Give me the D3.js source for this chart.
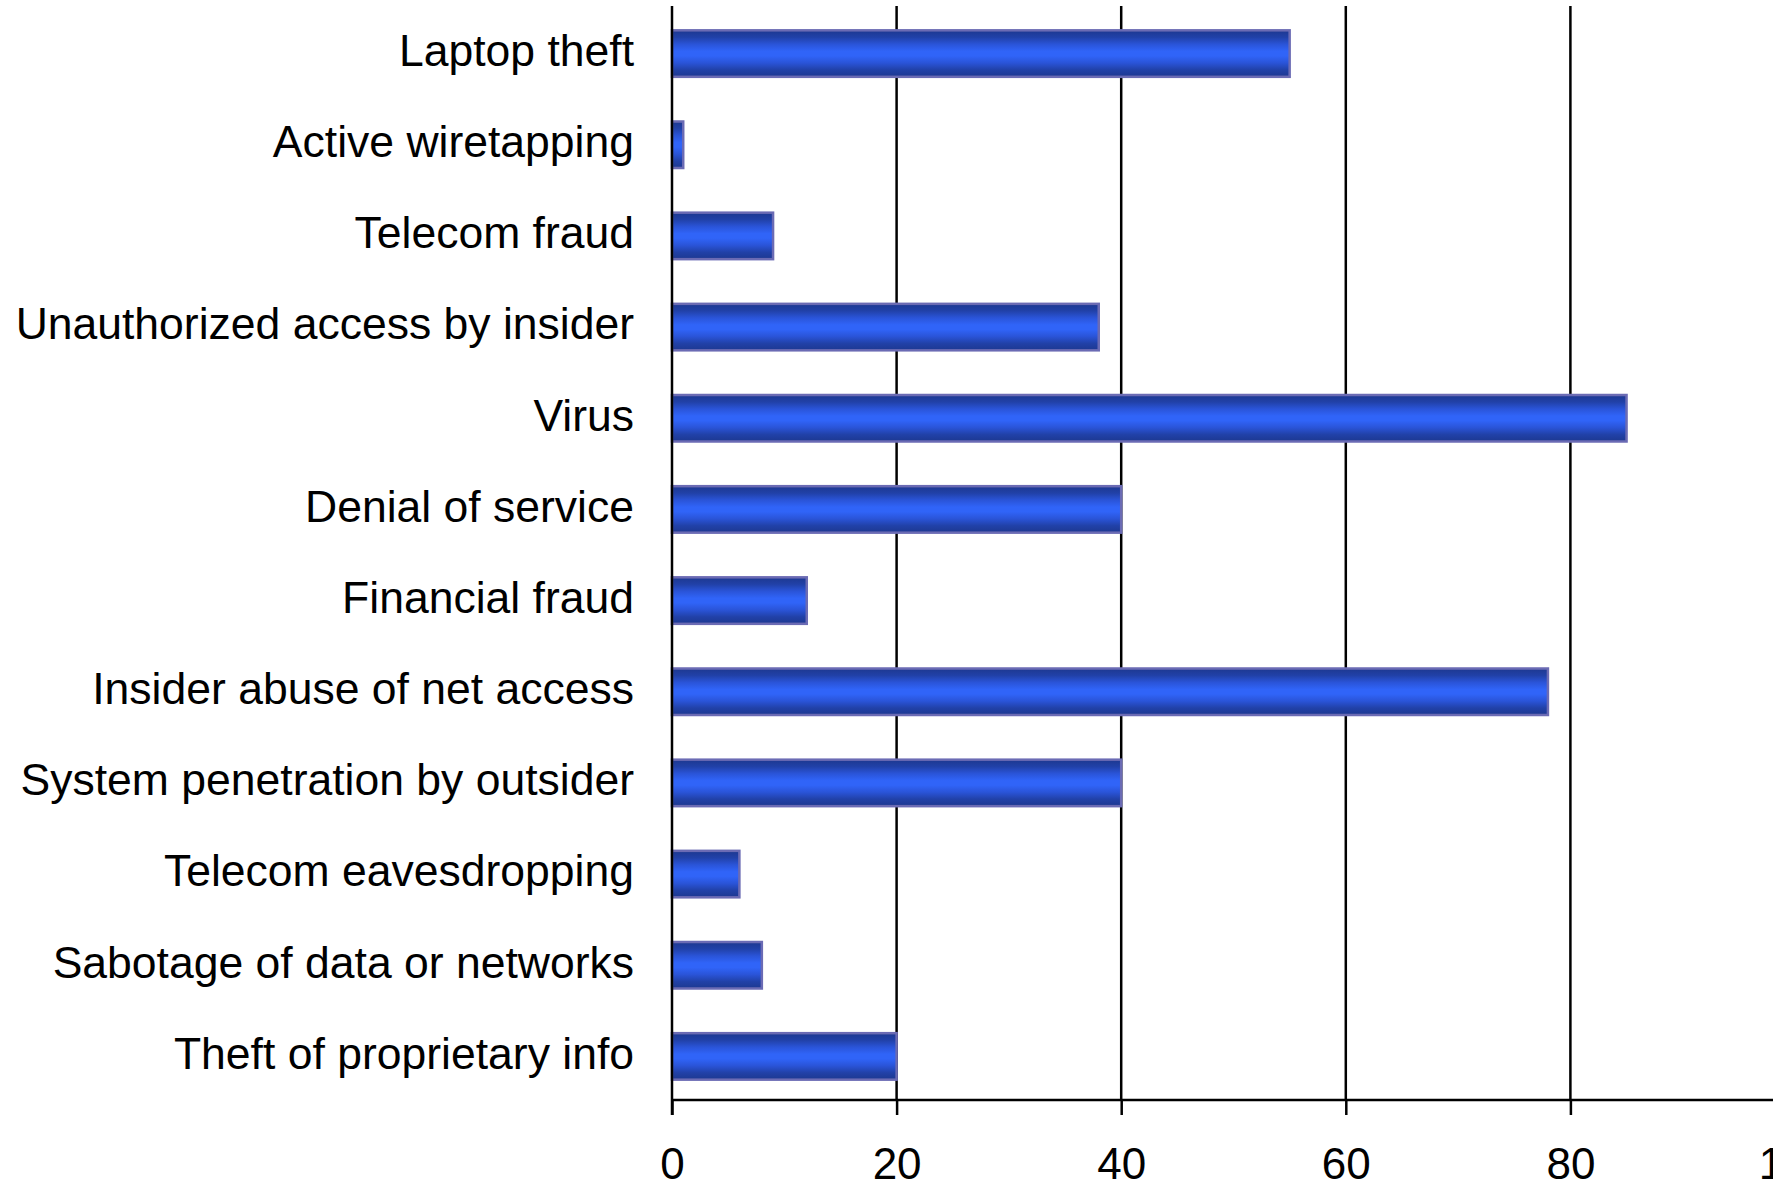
<!DOCTYPE html>
<html>
<head>
<meta charset="utf-8">
<script src="https://cdn.jsdelivr.net/npm/d3@7"></script>
<style>
  html, body { margin: 0; padding: 0; background: #ffffff; overflow: hidden; }
  svg { display: block; }
  text { font-family: "Liberation Sans", Arial, sans-serif; fill: #000; }
</style>
</head>
<body>
<script>
// Incident types, top to bottom
const categories = [
  "Laptop theft",
  "Active wiretapping",
  "Telecom fraud",
  "Unauthorized access by insider",
  "Virus",
  "Denial of service",
  "Financial fraud",
  "Insider abuse of net access",
  "System penetration by outsider",
  "Telecom eavesdropping",
  "Sabotage of data or networks",
  "Theft of proprietary info"
];
// Share of respondents reporting each incident (%)
const values = [55, 1, 9, 38, 85, 40, 12, 78, 40, 6, 8, 20];
const tickValues = [0, 20, 40, 60, 80, 100];

const W = 1773, H = 1189;
const margin = { top: 6, left: 672, bottom: 89 };
const plotBottom = H - margin.bottom;

const svg = d3.select("body").append("svg")
  .attr("width", W).attr("height", H);

// Bar fill: dark edges with a bright centre stripe
const grad = svg.append("defs").append("linearGradient")
  .attr("id", "barFill").attr("x1", 0).attr("y1", 0).attr("x2", 0).attr("y2", 1);
[
  [0.00, "#1d3890"], [0.15, "#2141a8"], [0.30, "#2a54d8"],
  [0.45, "#3064f8"], [0.55, "#3064f8"], [0.70, "#2a54d8"],
  [0.85, "#2141a8"], [1.00, "#1d3890"]
].forEach(([o, c]) => grad.append("stop").attr("offset", o).attr("stop-color", c));

const x = d3.scaleLinear().domain([0, 100]).range([margin.left, margin.left + 1123]);
const y = d3.scaleBand().domain(categories).range([margin.top, plotBottom]).paddingInner(0.49).paddingOuter(0.245);

// Vertical gridlines
svg.append("g")
  .selectAll("line")
  .data(tickValues.filter(d => d > 0))
  .join("line")
  .attr("x1", d => x(d)).attr("x2", d => x(d))
  .attr("y1", margin.top).attr("y2", plotBottom)
  .attr("stroke", "#000").attr("stroke-width", 2.5);

// Bars
svg.append("g")
  .selectAll("rect")
  .data(categories.map((c, i) => ({ c, v: values[i] })))
  .join("rect")
  .attr("x", x(0))
  .attr("y", d => y(d.c) + 2)
  .attr("width", d => x(d.v) - x(0))
  .attr("height", y.bandwidth())
  .attr("fill", "url(#barFill)")
  .attr("stroke", "#6b6bb4")
  .attr("stroke-width", 2.5);

// Bottom axis
const xAxis = svg.append("g")
  .attr("transform", `translate(0,${plotBottom})`)
  .call(d3.axisBottom(x).tickValues(tickValues).tickSize(15).tickPadding(33).tickFormat(d3.format("d")));
xAxis.select(".domain").attr("stroke", "#000").attr("stroke-width", 2.5).attr("d", `M${x(0)},0H${W + 10}`);
xAxis.selectAll(".tick line").attr("stroke", "#000").attr("stroke-width", 2.5);
xAxis.selectAll(".tick text").attr("font-size", 44).attr("font-family", "Liberation Sans, Arial, sans-serif");

// Left axis with category labels
const yAxis = svg.append("g")
  .attr("transform", `translate(${x(0)},0)`)
  .call(d3.axisLeft(y).tickSize(0).tickPadding(38));
yAxis.select(".domain").attr("stroke", "#000").attr("stroke-width", 2.5)
  .attr("d", `M0,${margin.top}V${plotBottom + 15}`);
yAxis.selectAll(".tick text").attr("font-size", 44.5).attr("font-family", "Liberation Sans, Arial, sans-serif");
</script>
</body>
</html>
